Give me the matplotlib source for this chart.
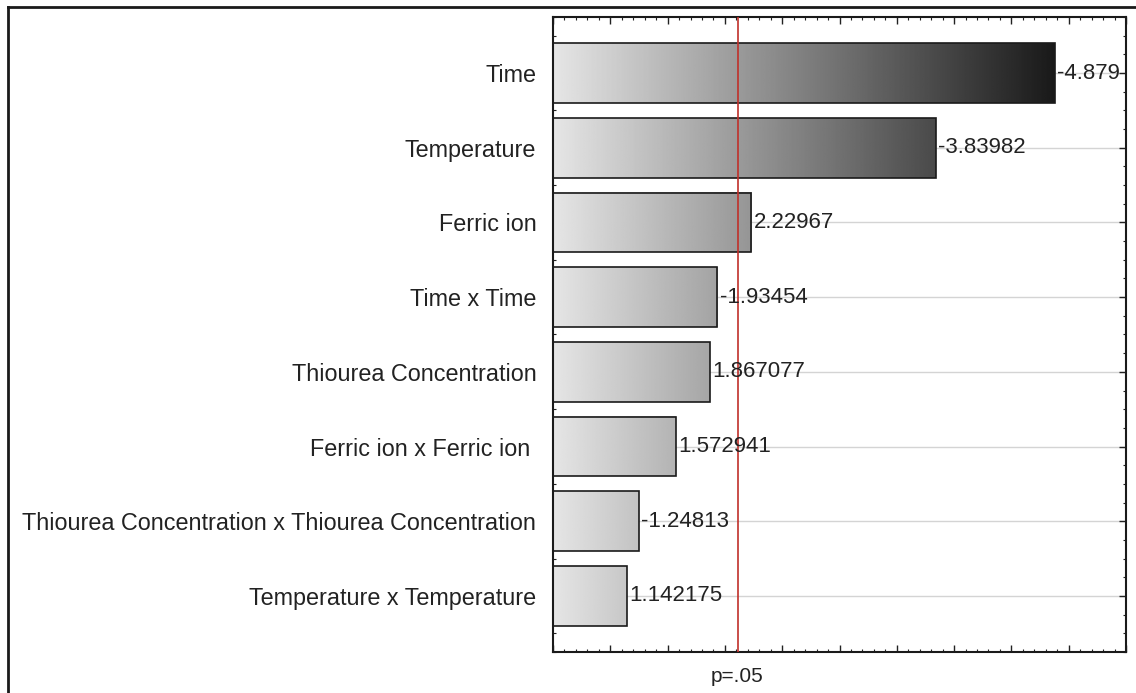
import numpy as np
import matplotlib
matplotlib.use("Agg")
import matplotlib.pyplot as plt
from matplotlib.patches import Rectangle
from matplotlib.lines import Line2D
from matplotlib.ticker import MultipleLocator

plt.rcParams['font.family'] = ['Liberation Sans', 'DejaVu Sans']

# standardized effects (Pareto chart), biggest first
factors = ["Time", "Temperature", "Ferric ion", "Time x Time",
           "Thiourea Concentration", "Ferric ion x Ferric ion ",
           "Thiourea Concentration x Thiourea Concentration",
           "Temperature x Temperature"]
effects = [-4.879, -3.83982, 2.22967, -1.93454, 1.867077, 1.572941, -1.24813, 1.142175]
labels = ["-4.879", "-3.83982", "2.22967", "-1.93454", "1.867077", "1.572941", "-1.24813", "1.142175"]
p_crit = 2.11  # t value for p=.05

fig = plt.figure(figsize=(11.36, 6.93), dpi=100)
ax = fig.add_axes([553 / 1136, 1 - 652 / 693, (1126 - 553) / 1136, (652 - 17) / 693])

x_lo, x_hi = 0.5, 5.5
bar_h = 0.8

def shade(x):
    # light grey at the left edge to near-black at the end of the longest bar
    return np.clip(0.90 - (x - x_lo) / (4.88 - x_lo) * 0.80, 0, 1)

for i, v in enumerate(effects):
    a = abs(v)
    xs = np.linspace(x_lo, a, 300)
    ax.imshow(shade(xs)[None, :], cmap='gray', vmin=0, vmax=1, aspect='auto',
              extent=[x_lo, a, i + bar_h / 2, i - bar_h / 2], zorder=2,
              interpolation='bilinear')
    ax.add_patch(Rectangle((x_lo, i - bar_h / 2), a - x_lo, bar_h,
                           facecolor='none', edgecolor='#1a1a1a', lw=1.2, zorder=3))
    ax.text(a + 0.02, i, labels[i], va='center', ha='left', fontsize=16,
            color='#222222', zorder=5)

for i in range(len(factors)):
    ax.axhline(i, color='#d4d4d4', lw=1, zorder=1)

ax.axvline(p_crit, color='#c0302a', lw=1.2, zorder=4)

ax.set_xlim(x_lo, x_hi)
ax.set_ylim(len(factors) - 0.25, -0.75)
ax.set_yticks(range(len(factors)))
ax.set_yticklabels(factors, fontsize=16.8, color='#222222')
ax.yaxis.set_minor_locator(MultipleLocator(0.25))
ax.xaxis.set_major_locator(MultipleLocator(0.5))
ax.xaxis.set_minor_locator(MultipleLocator(0.1))
ax.set_xticklabels([])
ax.tick_params(which='both', direction='in', top=True, right=True, color='#222222')
ax.tick_params(which='major', length=5, width=1, pad=10)
ax.tick_params(which='minor', length=2.5, width=0.8)
ax.tick_params(axis='y', which='major', pad=12)
for s in ax.spines.values():
    s.set_linewidth(1.5)
    s.set_color('#1a1a1a')

ax.text(p_crit, -0.024, "p=.05", transform=ax.get_xaxis_transform(), ha='center',
        va='top', fontsize=15, color='#222222')

# outer frame of the exported graph window
fig.add_artist(Line2D([8 / 1136, 8 / 1136], [0, 1 - 7 / 693], color='#1a1a1a', lw=2))
fig.add_artist(Line2D([8 / 1136, 1], [1 - 7 / 693, 1 - 7 / 693], color='#1a1a1a', lw=2))

fig.savefig("out.png", dpi=100)
